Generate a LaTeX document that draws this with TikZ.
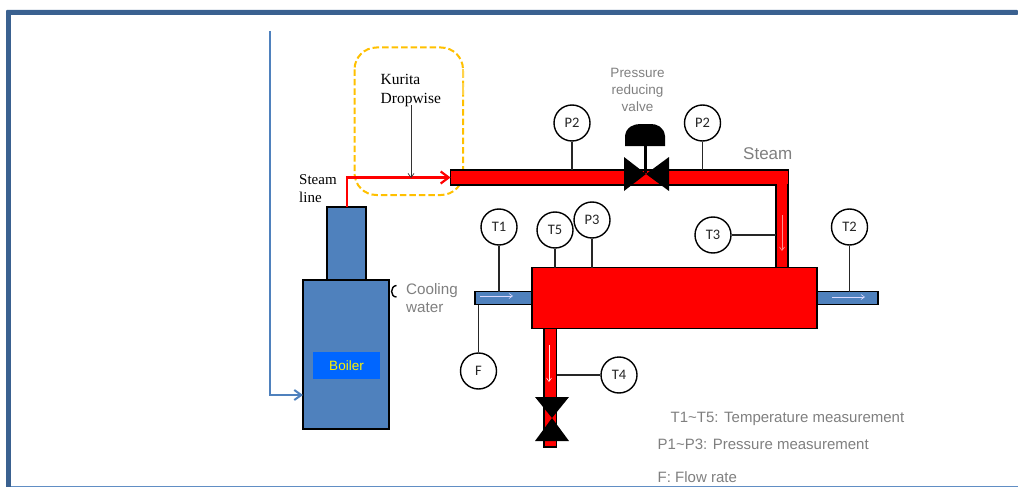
\documentclass[tikz,border=0pt]{standalone}
\usepackage{fontspec}
\setmainfont{Liberation Sans}
\newfontfamily\serifx{Liberation Serif}
\newfontfamily\calib{Carlito}
\usetikzlibrary{arrows.meta}
\definecolor{framec}{HTML}{3A6190}
\definecolor{linkb}{HTML}{4F81BD}
\definecolor{boilb}{HTML}{4F81BD}
\definecolor{lab}{HTML}{0066FF}
\definecolor{grayt}{HTML}{7F7F7F}
\definecolor{gold}{HTML}{FFC000}
\definecolor{pinkw}{HTML}{FF9090}
\tikzset{
  x=1pt,y=-1pt,
  box/.style={draw=black,line width=1.9pt,inner sep=0pt,outer sep=0pt,anchor=north west},
  redpipe/.style={box,fill=red},
  bluepipe/.style={box,fill=boilb},
  gauge/.style={circle,draw=black,line width=1.4pt,fill=white,minimum size=36pt,inner sep=0pt,font=\calib\fontsize{14.5}{16}\selectfont,text=black!85},
  tap/.style={draw=black!85,line width=1.3pt},
  graytxt/.style={text=grayt,inner sep=0pt,align=left},
  flow/.style={draw=#1,line width=.6pt,-{Straight Barb[length=3.5pt,width=5pt]}},
  serift/.style={text=black,inner sep=0pt,align=left},
}
\begin{document}
\begin{tikzpicture}
\useasboundingbox (0,0) rectangle (1018,487);
% frame
\fill[framec,rounded corners=1pt] (6,10) rectangle (1018,15);
\fill[framec] (6,12) rectangle (11,487);
\fill[linkb!90!white] (11,485.6) rectangle (1018,487);
% dashed highlight
\draw[gold,line width=2pt,dash pattern=on 6.5pt off 3pt,rounded corners=22pt] (354.5,47.5) rectangle (463,195);
\draw[gold!70!white,line width=2.5pt] (463,69) -- (463,78) (463,83) -- (463,95);
% boiler
\node[bluepipe,minimum width=39pt,minimum height=73pt] (chimney) at (327,207) {};
\node[bluepipe,minimum width=86pt,minimum height=149pt] (boiler) at (303,280) {};
\node[fill=lab,text=yellow,minimum width=67pt,minimum height=27pt,inner sep=0pt,font=\fontsize{13.5}{15}\selectfont] (boilerlabel) at (346.5,365.5) {Boiler};
% blue feed
\coordinate (feedstart) at (270,31);
\coordinate (feedin) at (boiler.west |- 0,395);
\draw[linkb,line width=2pt,-{Straight Barb[length=7pt,width=10pt]}] (feedstart) |- (feedin);
% pipes
\node[bluepipe,minimum width=57pt,minimum height=13pt] (inpipe) at (475,291.5) {};
\node[bluepipe,minimum width=61pt,minimum height=13pt] (outpipe) at (817,291.5) {};
\node[redpipe,minimum width=12.5pt,minimum height=120pt] (drain) at (544,327) {};
\node[redpipe,minimum width=12pt,minimum height=90pt] (riser) at (776,180) {};
\node[redpipe,minimum width=338pt,minimum height=15pt] (steampipe) at (450.5,170) {};
\fill[red] (777,180) rectangle (787,186);
\node[redpipe,minimum width=285pt,minimum height=61pt] (vessel) at (532,267.5) {};
% red line
\draw[red,line width=2.2pt,-{Straight Barb[length=8pt,width=12pt]}] (chimney.north -| 347,0) |- (steampipe.west);
% Kurita
\node[serift,anchor=north west,font=\serifx\fontsize{15.5}{19}\selectfont] (kurita) at (380.5,74) {Kurita\\Dropwise};
\coordinate (kuritaend) at (411,178);
\coordinate (kuritastart) at (411,105);
\draw[draw=black!80,line width=.7pt,-{Straight Barb[length=4pt,width=6pt]}] (kuritastart) -- (kuritaend);
\node[serift,anchor=north west,font=\serifx\fontsize{15}{18}\selectfont] (steamline) at (299,174) {Steam\\line};
% white flow arrows
\coordinate (fa1) at (480,296); \coordinate (fa2) at (513,296);
\coordinate (fb1) at (832,297); \coordinate (fb2) at (865,297);
\coordinate (fc1) at (549,345); \coordinate (fc2) at (549,382);
\coordinate (fd1) at (782,215); \coordinate (fd2) at (782,251);
\draw[flow=white!85!blue] (fa1) -- (fa2);
\draw[flow=white!85!blue] (fb1) -- (fb2);
\draw[flow=white!90!red] (fc1) -- (fc2);
\draw[flow=pinkw] (fd1) -- (fd2);
% main valve
\fill[black] (624,157) -- (646,174) -- (624,191) -- cycle;
\fill[black] (669,157) -- (646,174) -- (669,191) -- cycle;
\draw[black,line width=3.5pt] (645.5,146) -- (645.5,173);
\fill[black] (625,146) -- (625,136) .. controls (626,127) and (634,124) .. (640,124) -- (651,124) .. controls (657,124) and (664,127) .. (665,136) -- (665,146) -- cycle;
% drain valve
\fill[black] (535,397) -- (569,397) -- (552,418) -- cycle;
\fill[black] (535,441) -- (569,441) -- (552,418) -- cycle;
% gauges
\node[gauge] (p2a) at (572,123) {P2};
\node[gauge] (p2b) at (702.5,123) {P2};
\node[gauge] (t1) at (499,227) {T1};
\node[gauge] (t5) at (555,230) {T5};
\node[gauge] (p3) at (592,220) {P3};
\node[gauge] (t3) at (713,235) {T3};
\node[gauge] (t2) at (849.5,227) {T2};
\node[gauge] (f) at (478.5,371) {F};
\node[gauge] (t4) at (619,375) {T4};
\draw[tap] (p2a) -- (p2a |- steampipe.north);
\draw[tap] (p2b) -- (p2b |- steampipe.north);
\draw[tap] (t1) -- (t1 |- inpipe.north);
\draw[tap] (t5) -- (t5 |- vessel.north);
\draw[tap] (p3) -- (p3 |- vessel.north);
\draw[tap] (t3) -- (t3 -| riser.west);
\draw[tap] (t2) -- (t2 |- outpipe.north);
\draw[tap] (f) -- (f |- inpipe.south);
\draw[tap] (t4) -- (t4 -| drain.east);
% small mark beside boiler
\draw[black,line width=1.4pt] (396.5,285.5) .. controls (390,286) and (390,297) .. (396.5,297);
% texts
\node[graytxt,align=center,anchor=north,font=\fontsize{13.5}{17}\selectfont] (prv) at (637.5,68.5) {Pressure\\reducing\\valve};
\node[graytxt,anchor=west,font=\fontsize{17}{18}\selectfont] (steam) at (743,154) {Steam};
\node[graytxt,anchor=north west,font=\fontsize{15.2}{18}\selectfont] (cw) at (406,283) {Cooling\\water};
\node[graytxt,anchor=west,font=\fontsize{15}{16}\selectfont] (lg1) at (670.5,418.5) {T1\textasciitilde T5: Temperature measurement};
\node[graytxt,anchor=west,font=\fontsize{15}{16}\selectfont] (lg2) at (657.5,444.5) {P1\textasciitilde P3: Pressure measurement};
\node[graytxt,anchor=west,font=\fontsize{15}{16}\selectfont] (lg3) at (657.5,477) {F: Flow rate};
\end{tikzpicture}
\end{document}
